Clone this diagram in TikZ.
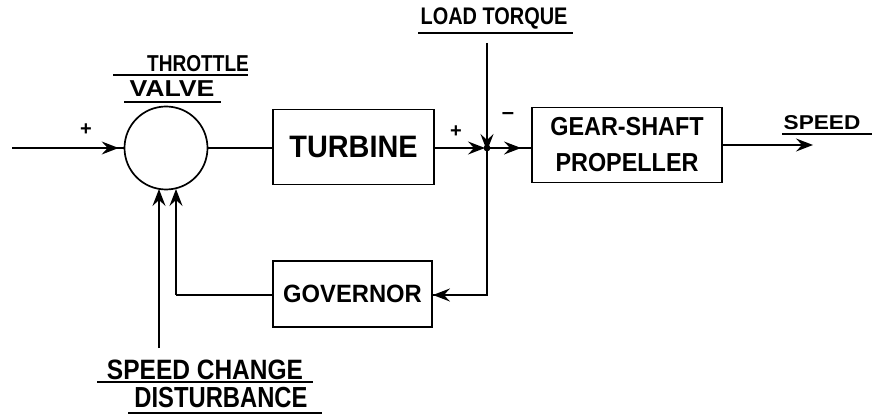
\documentclass[tikz,border=0pt]{standalone}
\usepackage{fontspec}
\setmainfont{Liberation Sans}
\usetikzlibrary{arrows.meta}
\begin{document}
\begin{tikzpicture}[x=1pt,y=-1pt,
  >={Stealth[length=17pt,width=13pt,inset=6pt]},
  line width=1.5pt,
  blk/.style={draw,line width=1.9pt,minimum width=#1,inner sep=0pt,align=center},
  lbl/.style={inner sep=0pt,anchor=center},
  uline/.style={line width=1.2pt},
  sgn/.style={inner sep=0pt,font=\fontsize{20}{20}\selectfont\bfseries}]
\useasboundingbox (0,0) rectangle (872,419);
% blocks
\node[draw,circle,line width=1.7pt,minimum size=83pt,inner sep=0pt] (circ) at (166,148) {};
\node[blk=161pt,minimum height=75pt] (turb) at (353.5,147) {};
\node[lbl,font=\fontsize{31}{31}\selectfont\bfseries,xscale=0.93] (turbt) at (turb) {TURBINE};
\node[blk=190pt,minimum height=75pt] (gear) at (627,145) {};
\node[lbl,font=\fontsize{26}{36}\selectfont\bfseries,xscale=0.9,align=center] (geart) at (gear) {GEAR-SHAFT\\PROPELLER};
\node[blk=159pt,minimum height=66pt] (gov) at (352.5,294) {};
\node[lbl,font=\fontsize{25}{25}\selectfont\bfseries,xscale=0.95] (govt) at (gov) {GOVERNOR};
% points
\coordinate (in) at (12,148);
\coordinate (junc) at (487,148);
\coordinate (ltop) at (487,43);
\coordinate (out) at (813,145);
\coordinate (fbr) at (487,295);
\coordinate (fbl) at (176,295);
\coordinate (dist) at (159,348);
% labels
\node[lbl,font=\fontsize{23}{23}\selectfont\bfseries,xscale=0.83] (tl1) at (198,64) {THROTTLE};
\node[lbl,font=\fontsize{23}{23}\selectfont\bfseries,xscale=1.16] (tl2) at (172,89) {VALVE};
\node[lbl,font=\fontsize{24}{24}\selectfont\bfseries,xscale=0.83] (lt) at (494,18) {LOAD TORQUE};
\node[lbl,font=\fontsize{20}{20}\selectfont\bfseries,xscale=1.13] (sp) at (822,123) {SPEED};
\node[lbl,font=\fontsize{28}{28}\selectfont\bfseries,xscale=0.875] (sc1) at (205,370) {SPEED CHANGE};
\node[lbl,font=\fontsize{29}{29}\selectfont\bfseries,xscale=0.82] (sc2) at (221,398) {DISTURBANCE};
\node[sgn] (p1) at (86,130) {+};
\node[sgn] (p2) at (456,132) {+};
\node[sgn,font=\fontsize{22}{22}\selectfont\bfseries] (m1) at (508,116) {–};
% underlines
\draw[uline] (113,75) -- (248,75);
\draw[uline] (124,102) -- (221,102);
\draw[uline] (418,33) -- (573,33);
\draw[uline] (782,134) -- (872,134);
\draw[uline] (97,382) -- (313,382);
\draw[uline] (128,413) -- (322,413);
% connectors
\draw[->] (in) -- ([xshift=-5pt]circ.west);
\draw (in) -- (circ.west);
\draw (circ.east) -- (turb.west |- circ.east);
\draw[->] (turb.east |- junc) -- ([xshift=-2pt]junc);
\draw[->] (ltop) -- ([yshift=-3pt]junc);
\draw[->] (junc) -- ([xshift=-10pt]junc -| gear.west);
\draw (junc) -- (junc -| gear.west);
\draw[->] (gear.east |- out) -- (out);
\draw (junc) -- (fbr) -- (gov.east |- fbr);
\draw[->] (fbr) -- (gov.east |- fbr);
\draw (gov.west |- fbl) -- (fbl);
\draw[->] (fbl) -- (176,189);
\draw[->] (dist) -- (159,189);
\fill (junc) circle (3.4pt);
\end{tikzpicture}
\end{document}
